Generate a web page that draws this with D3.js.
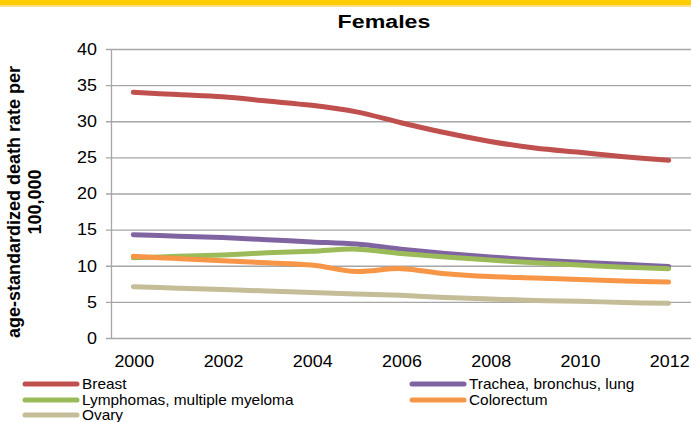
<!DOCTYPE html>
<html><head><meta charset="utf-8">
<script src="https://cdn.jsdelivr.net/npm/d3@7"></script>
<style>body{margin:0;background:#fff}svg{display:block;font-family:"Liberation Sans",Arial,sans-serif}</style>
</head><body><svg id="c" width="691" height="422"></svg>
<script>
const years = [2000,2001,2002,2003,2004,2005,2006,2007,2008,2009,2010,2011,2012];
const xTickLabels = ["2000","2002","2004","2006","2008","2010","2012"];
const yTicks = [0,5,10,15,20,25,30,35,40];
const seriesNames = ["Breast","Trachea, bronchus, lung","Lymphomas, multiple myeloma","Colorectum","Ovary"];
const breast     = [34.0,33.7,33.4,32.8,32.2,31.3,29.8,28.4,27.2,26.3,25.7,25.1,24.6];
const trachea    = [14.3,14.1,13.9,13.6,13.3,13.0,12.3,11.7,11.2,10.8,10.5,10.2,9.9];
const lymphomas  = [11.1,11.3,11.5,11.8,12.0,12.3,11.7,11.2,10.8,10.4,10.1,9.8,9.6];
const colorectum = [11.3,11.0,10.7,10.4,10.1,9.2,9.6,8.9,8.5,8.3,8.1,7.9,7.75];
const ovary      = [7.1,6.9,6.7,6.5,6.3,6.1,5.9,5.6,5.4,5.2,5.1,4.9,4.8];
const colors = ["#C0504D","#8064A2","#9BBB59","#F79646","#C4BD97"];
const seriesValues = [breast,trachea,lymphomas,colorectum,ovary];

const svg = d3.select("#c");
// top band
svg.append("rect").attr("x",0).attr("y",0).attr("width",691).attr("height",5).attr("fill","#FFCC00");
svg.append("rect").attr("x",0).attr("y",5).attr("width",691).attr("height",2).attr("fill","#FFE08A");

const L=111, R=691, T=49, B=338;
const x = d3.scaleBand().domain(years).range([L,R]);
const y = d3.scaleLinear().domain([0,40]).range([B,T]);
const cx = d => x(d)+x.bandwidth()/2;

// gridlines
svg.append("g").selectAll("line").data(yTicks).join("line")
  .attr("x1",L-5).attr("x2",R).attr("y1",d=>y(d)+0.5).attr("y2",d=>y(d)+0.5)
  .attr("stroke","#A6A6A6").attr("stroke-width",1.3);
svg.append("line").attr("x1",L+0.5).attr("x2",L+0.5).attr("y1",T).attr("y2",B)
  .attr("stroke","#A6A6A6").attr("stroke-width",1.3);

// y labels
svg.append("g").selectAll("text").data(yTicks).join("text")
  .attr("transform",d=>`translate(97,${y(d)}) scale(1.12,1)`)
  .attr("dy","0.36em").attr("text-anchor","end")
  .attr("font-size",16).attr("fill","#000").text(d=>d);

// x labels
svg.append("g").selectAll("text").data(xTickLabels).join("text")
  .attr("transform",d=>`translate(${cx(+d)+1},361) scale(1.12,1)`)
  .attr("dy","0.36em").attr("text-anchor","middle")
  .attr("font-size",16).attr("fill","#000").text(d=>d);

// title
svg.append("text").attr("transform","translate(384,21) scale(1.22,1)")
  .attr("dy","0.36em").attr("text-anchor","middle")
  .attr("font-size",19).attr("font-weight","bold").text("Females");

// y axis title
const yt = svg.append("text").attr("transform","translate(0,202) rotate(-90)")
  .attr("text-anchor","middle").attr("font-size",18).attr("font-weight","bold");
yt.append("tspan").attr("x",0).attr("y",20).text("age-standardized death rate per");
yt.append("tspan").attr("x",0).attr("y",41).text("100,000");

// lines
const line = d3.line().x((d,i)=>cx(years[i])).y(d=>y(d)).curve(d3.curveCatmullRom.alpha(0.5));
seriesValues.forEach((vals,i)=>{
  svg.append("path").attr("d",line(vals)).attr("fill","none")
    .attr("stroke",colors[i]).attr("stroke-width",5).attr("stroke-linecap","round").attr("stroke-linejoin","round");
});

// legend
const legendPos = [[23,384],[410,384],[23,400],[410,400],[23,415]];
seriesNames.forEach((n,i)=>{
  const [lx,ly]=legendPos[i];
  svg.append("line").attr("x1",lx+2).attr("x2",lx+54).attr("y1",ly).attr("y2",ly)
    .attr("stroke",colors[i]).attr("stroke-width",5).attr("stroke-linecap","round");
  svg.append("text").attr("transform",`translate(${lx+59},${ly}) scale(1.1,1)`)
    .attr("dy","0.36em").attr("font-size",14).text(n);
});
</script></body></html>
